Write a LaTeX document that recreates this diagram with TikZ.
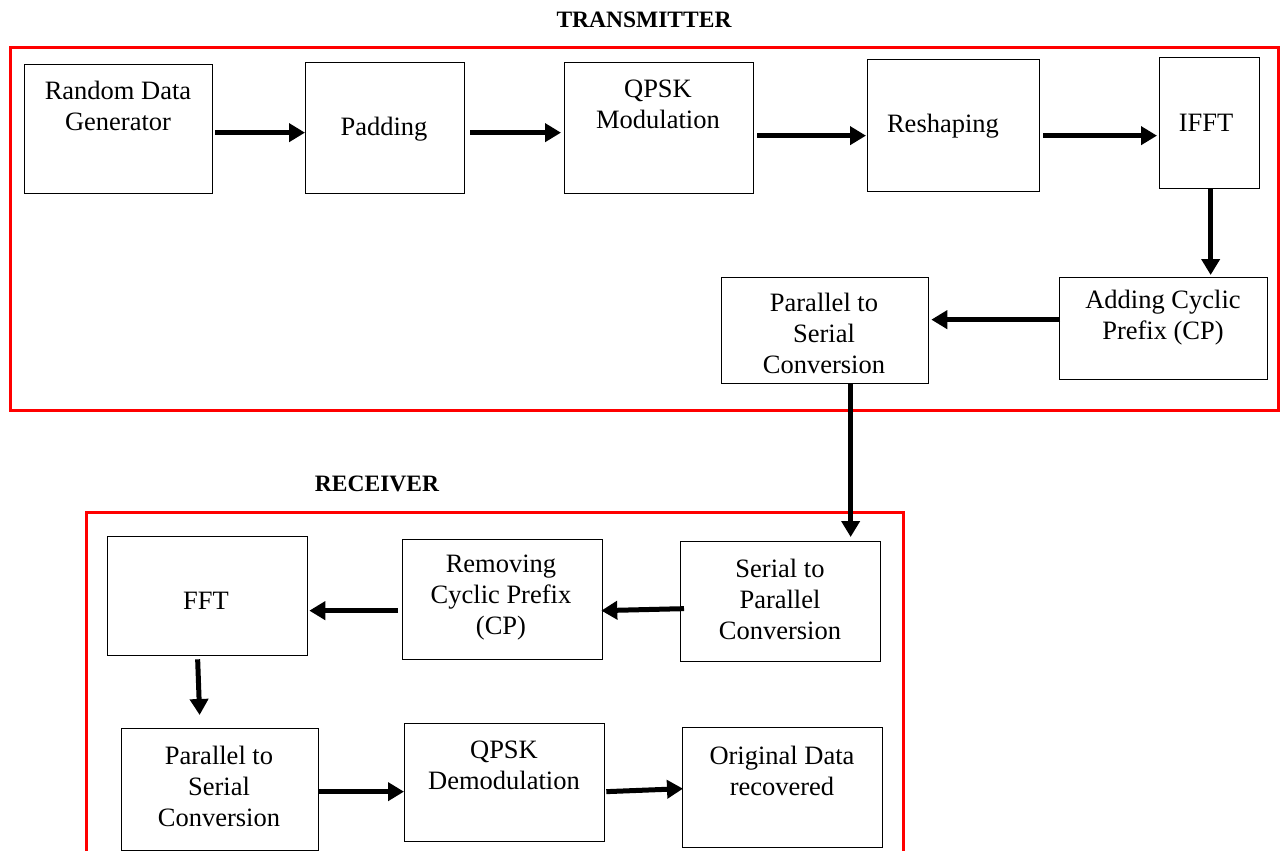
\documentclass[tikz,border=0pt]{standalone}
\usepackage{fontspec}
\setmainfont{Liberation Serif}
\usetikzlibrary{arrows.meta,calc}
\begin{document}
\begin{tikzpicture}[x=1pt,y=-1pt,
  blk/.style={draw,line width=1.3pt,inner sep=0pt,anchor=north west},
  txt/.style={align=center,inner sep=0pt,font=\fontsize{26.5}{31}\selectfont},
  arr/.style={line width=5pt,-{Triangle[length=16pt,width=18pt]}},
  frame/.style={draw=red,line width=3pt},
  ttl/.style={font=\fontsize{23.5}{27}\selectfont\bfseries,inner sep=0pt}]
\useasboundingbox (0,0) rectangle (1280,851);
% frames
\draw[frame] (10,48) rectangle (1278,410);
\draw[frame] (86,851) -- (86,512) -- (903,512) -- (903,851);
\node[ttl] (ttx) at (644,20) {TRANSMITTER};
\node[ttl] (trx) at (377,484) {RECEIVER};
% transmitter boxes
\node[blk,minimum width=188pt,minimum height=129pt] (b1) at (24,64) {};
\node[blk,minimum width=159pt,minimum height=131pt] (b2) at (305,62) {};
\node[blk,minimum width=189pt,minimum height=131pt] (b3) at (564,62) {};
\node[blk,minimum width=172pt,minimum height=132pt] (b4) at (867,59) {};
\node[blk,minimum width=100pt,minimum height=131pt] (b5) at (1159,57) {};
\node[blk,minimum width=208pt,minimum height=102pt] (b6) at (1059,277) {};
\node[blk,minimum width=207pt,minimum height=106pt] (b7) at (721,277) {};
\node[txt] (t1) at (118,106) {Random Data\\Generator};
\node[txt] (t2) at (384,129) {Padding};
\node[txt] (t3) at (658,104.5) {QPSK\\Modulation};
\node[txt] (t4) at (943,126) {Reshaping};
\node[txt] (t5) at (1206,123) {IFFT};
\node[txt] (t6) at (1163,318) {Adding Cyclic\\Prefix (CP)};
\node[txt] (t7) at (824,333.5) {Parallel to\\Serial\\Conversion};
% receiver boxes
\node[blk,minimum width=200pt,minimum height=120pt] (r1) at (680,541) {};
\node[blk,minimum width=200pt,minimum height=120pt] (r2) at (402,539) {};
\node[blk,minimum width=200pt,minimum height=119pt] (r3) at (107,536) {};
\node[blk,minimum width=197pt,minimum height=122pt] (r4) at (121,728) {};
\node[blk,minimum width=200pt,minimum height=118pt] (r5) at (404,723) {};
\node[blk,minimum width=200pt,minimum height=120pt] (r6) at (682,727) {};
\node[txt] (u1) at (780,599) {Serial to\\Parallel\\Conversion};
\node[txt] (u2) at (501,598) {Removing\\Cyclic Prefix\\(CP)};
\node[txt] (u3) at (206,601) {FFT};
\node[txt] (u4) at (219,786.5) {Parallel to\\Serial\\Conversion};
\node[txt] (u5) at (504,765.5) {QPSK\\Demodulation};
\node[txt] (u6) at (782,771) {Original Data\\recovered};
% arrows transmitter
\draw[arr] ([shift={(2,3.5)}]b1.east) -- ([shift={(0,4.5)}]b2.west);
\draw[arr] ([shift={(5,4.5)}]b2.east) -- ([shift={(-3,4.5)}]b3.west);
\draw[arr] ([shift={(3,7.5)}]b3.east) -- ([shift={(-1,10)}]b4.west);
\draw[arr] ([shift={(3,10)}]b4.east) -- ([shift={(-2,12.5)}]b5.west);
\draw[arr] ([shift={(1,0)}]b5.south) -- ([shift={(47,-2)}]b6.north);
\draw[arr] ([shift={(1,-9)}]b6.west) -- ([shift={(2,-11)}]b7.east);
\draw[arr] ([shift={(25.5,0)}]b7.south) -- ([shift={(70,-4)}]r1.north);
% arrows receiver
\draw[arr] ([shift={(4,7)}]r1.west) -- ([shift={(-2,11)}]r2.east);
\draw[arr] ([shift={(-4,11)}]r2.west) -- ([shift={(1,14.5)}]r3.east);
\draw[arr] ([shift={(-10,3)}]r3.south) -- ([shift={(-20.5,-13)}]r4.north);
\draw[arr] ([shift={(0,2)}]r4.east) -- ([shift={(0,9)}]r5.west);
\draw[arr] ([shift={(1,9)}]r5.east) -- ([shift={(1,1)}]r6.west);
\end{tikzpicture}
\end{document}
